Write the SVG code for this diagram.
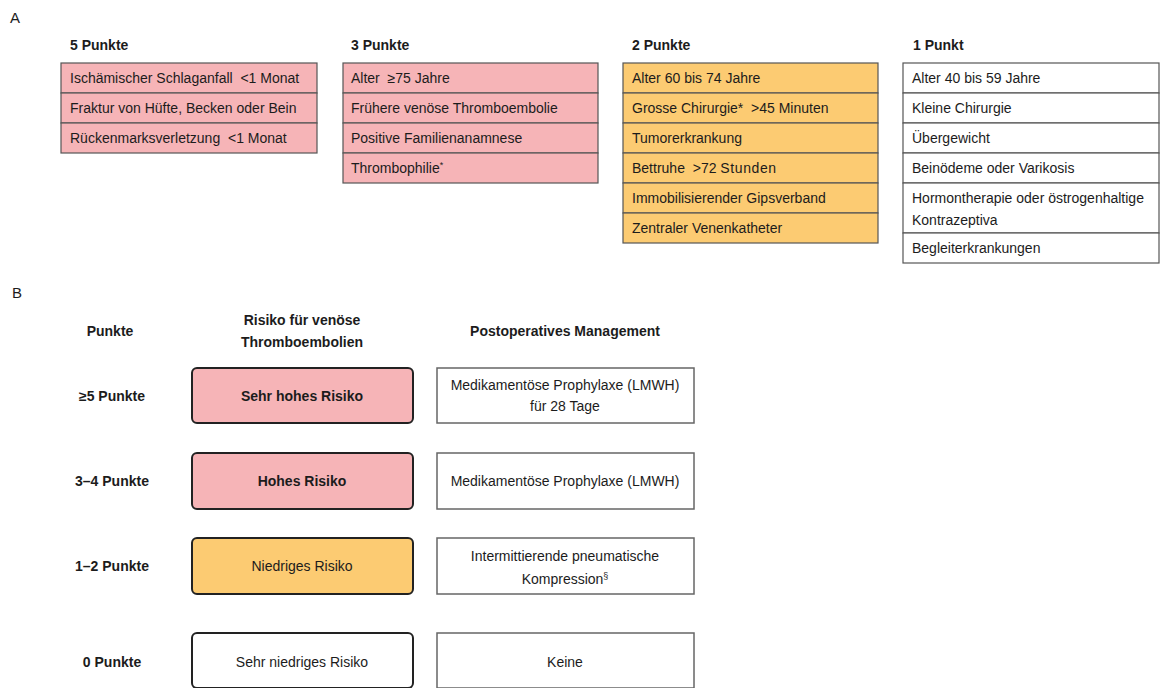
<svg xmlns="http://www.w3.org/2000/svg" width="1166" height="688" viewBox="0 0 1166 688">
<style>
text{font-family:"Liberation Sans",Arial,Helvetica,sans-serif;fill:#1c1c1c;font-size:14px}
.h{font-weight:bold}
.c{text-anchor:middle}
.pink{fill:#f6b4b7;stroke:#555;stroke-width:1.2}
.org{fill:#fccb72;stroke:#555;stroke-width:1.2}
.wht{fill:#fff;stroke:#555;stroke-width:1.2}
.risk{stroke:#222;stroke-width:2}
.mg{fill:#fff;stroke:#666;stroke-width:1.5}
.sup{font-size:9px}
</style>
<rect width="1166" height="688" fill="#fff"/>
<text x="10" y="23" style="font-size:15px">A</text>
<text x="12" y="298" style="font-size:15px">B</text>

<g id="col5">
<text class="h" x="70" y="50">5 Punkte</text>
<rect class="pink" x="61" y="63" width="256" height="30"/>
<rect class="pink" x="61" y="93" width="256" height="30"/>
<rect class="pink" x="61" y="123" width="256" height="30"/>
<text x="70" y="83">Ischämischer Schlaganfall &#160;&lt;1 Monat</text>
<text x="70" y="113">Fraktur von Hüfte, Becken oder Bein</text>
<text x="70" y="143">Rückenmarksverletzung &#160;&lt;1 Monat</text>
</g>

<g id="col3">
<text class="h" x="351" y="50">3 Punkte</text>
<rect class="pink" x="343" y="63" width="255" height="30"/>
<rect class="pink" x="343" y="93" width="255" height="30"/>
<rect class="pink" x="343" y="123" width="255" height="30"/>
<rect class="pink" x="343" y="153" width="255" height="30"/>
<text x="351" y="83">Alter &#160;≥75 Jahre</text>
<text x="351" y="113">Frühere venöse Thromboembolie</text>
<text x="351" y="143">Positive Familienanamnese</text>
<text x="351" y="173">Thrombophilie<tspan class="sup" dy="-5">*</tspan></text>
</g>

<g id="col2">
<text class="h" x="632" y="50">2 Punkte</text>
<rect class="org" x="623" y="63" width="255" height="30"/>
<rect class="org" x="623" y="93" width="255" height="30"/>
<rect class="org" x="623" y="123" width="255" height="30"/>
<rect class="org" x="623" y="153" width="255" height="30"/>
<rect class="org" x="623" y="183" width="255" height="30"/>
<rect class="org" x="623" y="213" width="255" height="30"/>
<text x="632" y="83">Alter 60 bis 74 Jahre</text>
<text x="632" y="113">Grosse Chirurgie* &#160;&gt;45 Minuten</text>
<text x="632" y="143">Tumorerkrankung</text>
<text x="632" y="173">Bettruhe &#160;&gt;72 <tspan style="letter-spacing:0.6px">Stunden</tspan></text>
<text x="632" y="203">Immobilisierender Gipsverband</text>
<text x="632" y="233">Zentraler Venenkatheter</text>
</g>

<g id="col1">
<text class="h" x="913" y="50">1 Punkt</text>
<rect class="wht" x="903" y="63" width="256" height="30"/>
<rect class="wht" x="903" y="93" width="256" height="30"/>
<rect class="wht" x="903" y="123" width="256" height="30"/>
<rect class="wht" x="903" y="153" width="256" height="30"/>
<rect class="wht" x="903" y="183" width="256" height="50"/>
<rect class="wht" x="903" y="233" width="256" height="30"/>
<text x="912" y="83">Alter 40 bis 59 Jahre</text>
<text x="912" y="113">Kleine Chirurgie</text>
<text x="912" y="143">Übergewicht</text>
<text x="912" y="173">Beinödeme oder Varikosis</text>
<text x="912" y="203">Hormontherapie oder östrogenhaltige</text>
<text x="912" y="225">Kontrazeptiva</text>
<text x="912" y="253">Begleiterkrankungen</text>
</g>

<g id="headersB">
<text class="h c" x="110" y="336">Punkte</text>
<text class="h c" x="302" y="325">Risiko für venöse</text>
<text class="h c" x="302" y="347">Thromboembolien</text>
<text class="h c" x="565" y="336">Postoperatives Management</text>
</g>

<g id="row1">
<text class="h c" x="112" y="401">≥5 Punkte</text>
<rect class="risk" x="192" y="368" width="221" height="55" rx="5" fill="#f6b4b7"/>
<text class="h c" x="302" y="401">Sehr hohes Risiko</text>
<rect class="mg" x="437" y="368" width="257" height="55"/>
<text class="c" x="565" y="390">Medikamentöse Prophylaxe (LMWH)</text>
<text class="c" x="565" y="411">für 28 Tage</text>
</g>

<g id="row2">
<text class="h c" x="112" y="486">3–4 Punkte</text>
<rect class="risk" x="192" y="453" width="221" height="56" rx="5" fill="#f6b4b7"/>
<text class="h c" x="302" y="486">Hohes Risiko</text>
<rect class="mg" x="437" y="453" width="257" height="56"/>
<text class="c" x="565" y="486">Medikamentöse Prophylaxe (LMWH)</text>
</g>

<g id="row3">
<text class="h c" x="112" y="571">1–2 Punkte</text>
<rect class="risk" x="192" y="538" width="221" height="56" rx="5" fill="#fccb72"/>
<text class="c" x="302" y="571">Niedriges Risiko</text>
<rect class="mg" x="437" y="538" width="257" height="56"/>
<text class="c" x="565" y="561">Intermittierende pneumatische</text>
<text class="c" x="565" y="584">Kompression<tspan class="sup" dy="-5">§</tspan></text>
</g>

<g id="row4">
<text class="h c" x="112" y="667">0 Punkte</text>
<rect class="risk" x="192" y="633" width="221" height="55" rx="5" fill="#fff"/>
<text class="c" x="302" y="667">Sehr niedriges Risiko</text>
<rect class="mg" x="437" y="633" width="257" height="55"/>
<text class="c" x="565" y="667">Keine</text>
</g>

<g id="connectors"></g>
</svg>
